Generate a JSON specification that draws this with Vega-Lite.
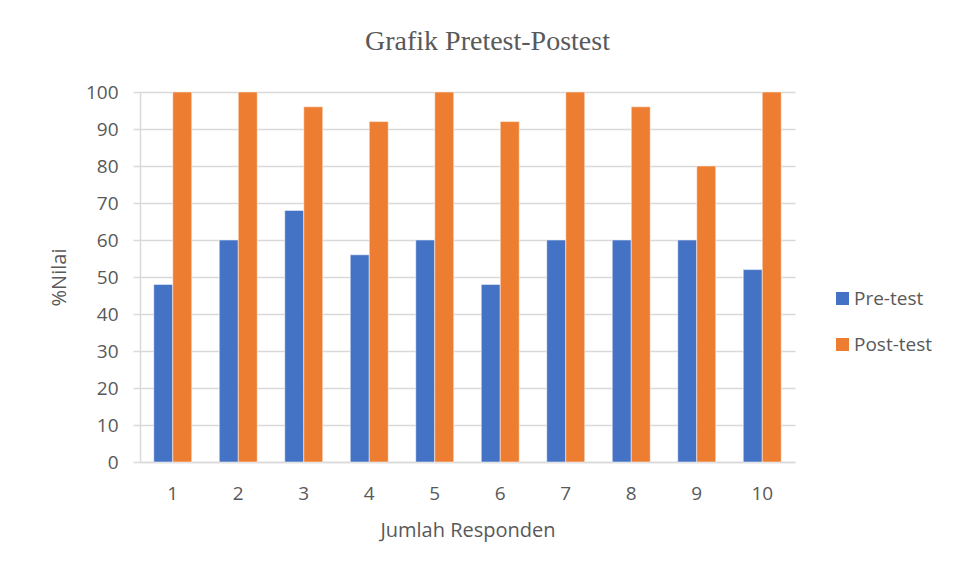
{
  "$schema": "https://vega.github.io/schema/vega-lite/v6.json",
  "autosize": "none",
  "width": 655,
  "height": 370,
  "padding": {"left": 140, "top": 92, "right": 161, "bottom": 114},
  "background": "white",
  "title": {
    "text": "Grafik Pretest-Postest",
    "font": "Liberation Serif",
    "fontSize": 28,
    "fontWeight": "normal",
    "color": "#595959",
    "anchor": "middle",
    "dx": 20,
    "offset": 27
  },
  "data": {
    "values": [
      {"responden": "1", "test": "Pre-test", "nilai": 48},
      {"responden": "1", "test": "Post-test", "nilai": 100},
      {"responden": "2", "test": "Pre-test", "nilai": 60},
      {"responden": "2", "test": "Post-test", "nilai": 100},
      {"responden": "3", "test": "Pre-test", "nilai": 68},
      {"responden": "3", "test": "Post-test", "nilai": 96},
      {"responden": "4", "test": "Pre-test", "nilai": 56},
      {"responden": "4", "test": "Post-test", "nilai": 92},
      {"responden": "5", "test": "Pre-test", "nilai": 60},
      {"responden": "5", "test": "Post-test", "nilai": 100},
      {"responden": "6", "test": "Pre-test", "nilai": 48},
      {"responden": "6", "test": "Post-test", "nilai": 92},
      {"responden": "7", "test": "Pre-test", "nilai": 60},
      {"responden": "7", "test": "Post-test", "nilai": 100},
      {"responden": "8", "test": "Pre-test", "nilai": 60},
      {"responden": "8", "test": "Post-test", "nilai": 96},
      {"responden": "9", "test": "Pre-test", "nilai": 60},
      {"responden": "9", "test": "Post-test", "nilai": 80},
      {"responden": "10", "test": "Pre-test", "nilai": 52},
      {"responden": "10", "test": "Post-test", "nilai": 100}
    ]
  },
  "mark": {"type": "bar", "stroke": "white", "strokeWidth": 0.5},
  "encoding": {
    "x": {
      "field": "responden",
      "type": "nominal",
      "sort": ["1","2","3","4","5","6","7","8","9","10"],
      "scale": {"paddingInner": 0.42, "paddingOuter": 0.21},
      "axis": {
        "title": "Jumlah Responden",
        "labelAngle": 0,
        "ticks": false,
        "domain": true,
        "domainColor": "#d9d9d9",
        "domainWidth": 1.5,
        "labelFont": "Open Sans",
        "labelFontSize": 19,
        "labelColor": "#595959",
        "labelPadding": 22,
        "titleFont": "Open Sans",
        "titleFontSize": 20,
        "titleFontWeight": "normal",
        "titleColor": "#595959",
        "titlePadding": 17
      }
    },
    "xOffset": {"field": "test", "type": "nominal", "sort": ["Pre-test", "Post-test"], "scale": {"paddingInner": 0, "paddingOuter": 0}},
    "y": {
      "field": "nilai",
      "type": "quantitative",
      "scale": {"domain": [0, 100], "nice": false},
      "axis": {
        "title": "%Nilai",
        "values": [0,10,20,30,40,50,60,70,80,90,100],
        "grid": true,
        "gridColor": "#d9d9d9",
        "gridWidth": 1.5,
        "domain": true,
        "domainColor": "#d9d9d9",
        "domainWidth": 1.5,
        "ticks": true,
        "tickSize": 7,
        "tickColor": "#d9d9d9",
        "tickWidth": 1.5,
        "labelFont": "Open Sans",
        "labelFontSize": 19,
        "labelColor": "#595959",
        "labelPadding": 15,
        "titleFont": "Open Sans",
        "titleFontSize": 20,
        "titleFontWeight": "normal",
        "titleColor": "#595959",
        "titlePadding": 16
      }
    },
    "color": {
      "field": "test",
      "type": "nominal",
      "sort": ["Pre-test", "Post-test"],
      "scale": {"domain": ["Pre-test", "Post-test"], "range": ["#4472c4", "#ed7d31"]},
      "legend": {
        "title": null,
        "orient": "none",
        "legendX": 693,
        "legendY": 197,
        "symbolType": "square",
        "symbolSize": 170,
        "symbolStrokeWidth": 0,
        "labelFont": "Open Sans",
        "labelFontSize": 19,
        "labelColor": "#595959",
        "labelOffset": 2,
        "rowPadding": 26
      }
    }
  },
  "config": {"view": {"stroke": null}}
}
